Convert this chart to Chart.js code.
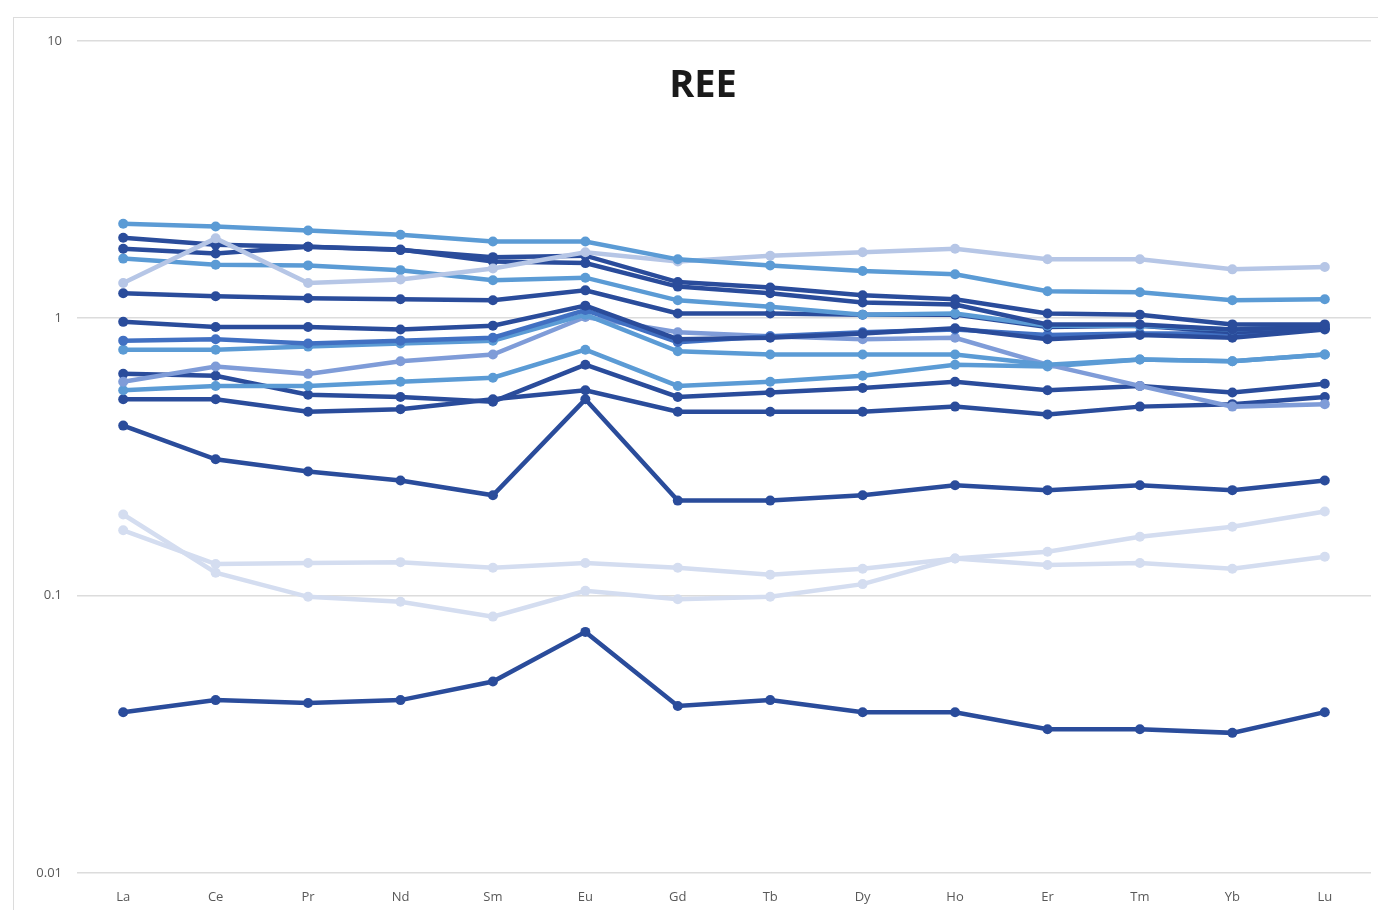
<!DOCTYPE html>
<html>
<head>
<meta charset="utf-8">
<title>REE</title>
<script src="https://cdn.jsdelivr.net/npm/chart.js@4.4.1/dist/chart.umd.min.js"></script>
<style>
  html, body { margin: 0; padding: 0; background: #ffffff; overflow: hidden; width: 1378px; height: 910px; }
  #frame {
    position: absolute; left: 13px; top: 17px;
    width: 1378px; height: 900px;
    border-left: 1px solid #dcdcdc; border-top: 1px solid #dcdcdc;
    background: #ffffff;
  }
  #chart { display: block; }
</style>
</head>
<body>
<div id="frame"><canvas id="chart" width="1378" height="900"></canvas></div>
<script>
// Chondrite-normalised rare earth element patterns
const chartTitle = 'REE';
const categories = ['La', 'Ce', 'Pr', 'Nd', 'Sm', 'Eu', 'Gd', 'Tb', 'Dy', 'Ho', 'Er', 'Tm', 'Yb', 'Lu'];
const yTickValues = [0.01, 0.1, 1, 10];
const yTickLabels = ['0.01', '0.1', '1', '10'];

const sampleA = [2.19, 2.14, 2.07, 2.00, 1.89, 1.89, 1.63, 1.55, 1.48, 1.44, 1.25, 1.24, 1.16, 1.17];
const sampleB = [1.34, 1.94, 1.34, 1.38, 1.51, 1.73, 1.60, 1.68, 1.73, 1.78, 1.63, 1.63, 1.50, 1.53];
const sampleC = [1.95, 1.84, 1.81, 1.76, 1.66, 1.68, 1.35, 1.29, 1.21, 1.17, 1.04, 1.03, 0.95, 0.95];
const sampleD = [1.78, 1.71, 1.81, 1.77, 1.60, 1.58, 1.30, 1.23, 1.14, 1.12, 0.95, 0.95, 0.91, 0.93];
const sampleE = [1.64, 1.56, 1.55, 1.49, 1.37, 1.40, 1.16, 1.10, 1.03, 1.04, 0.94, 0.94, 0.91, 0.94];
const sampleF = [1.23, 1.20, 1.18, 1.17, 1.16, 1.26, 1.04, 1.04, 1.03, 1.03, 0.93, 0.94, 0.89, 0.92];
const sampleG = [0.97, 0.93, 0.93, 0.91, 0.94, 1.11, 0.84, 0.85, 0.88, 0.92, 0.84, 0.87, 0.85, 0.91];
const sampleH = [0.83, 0.84, 0.81, 0.83, 0.85, 1.07, 0.82, 0.86, 0.89, 0.91, 0.87, 0.88, 0.88, 0.92];
const sampleI = [0.77, 0.77, 0.79, 0.81, 0.83, 1.03, 0.76, 0.74, 0.74, 0.74, 0.68, 0.71, 0.70, 0.74];
const sampleJ = [0.63, 0.62, 0.53, 0.52, 0.50, 0.68, 0.52, 0.54, 0.56, 0.59, 0.55, 0.57, 0.54, 0.58];
const sampleK = [0.59, 0.67, 0.63, 0.70, 0.74, 1.01, 0.89, 0.86, 0.84, 0.85, 0.68, 0.57, 0.48, 0.49];
const sampleL = [0.55, 0.57, 0.57, 0.59, 0.61, 0.77, 0.57, 0.59, 0.62, 0.68, 0.67, 0.71, 0.70, 0.74];
const sampleN = [0.51, 0.51, 0.46, 0.47, 0.51, 0.55, 0.46, 0.46, 0.46, 0.48, 0.45, 0.48, 0.49, 0.52];
const sampleO = [0.41, 0.31, 0.28, 0.26, 0.23, 0.51, 0.22, 0.22, 0.23, 0.25, 0.24, 0.25, 0.24, 0.26];
const sampleP = [0.196, 0.121, 0.099, 0.095, 0.084, 0.104, 0.097, 0.099, 0.110, 0.136, 0.144, 0.163, 0.177, 0.201];
const sampleQ = [0.172, 0.130, 0.131, 0.132, 0.126, 0.131, 0.126, 0.119, 0.125, 0.136, 0.129, 0.131, 0.125, 0.138];
const sampleR = [0.038, 0.042, 0.041, 0.042, 0.049, 0.074, 0.040, 0.042, 0.038, 0.038, 0.033, 0.033, 0.032, 0.038];

// Blue monochrome palette
const navy = '#2A4C9B';
const sky = '#5B9BD5';
const royal = '#4170C2';
const periwinkle = '#7F9CD8';
const lavender = '#B6C6E6';
const mist = '#D4DDF0';

const seriesList = [
  { label: 'Sample R', data: sampleR, color: navy },
  { label: 'Sample P', data: sampleP, color: mist },
  { label: 'Sample Q', data: sampleQ, color: mist },
  { label: 'Sample O', data: sampleO, color: navy },
  { label: 'Sample N', data: sampleN, color: navy },
  { label: 'Sample J', data: sampleJ, color: navy },
  { label: 'Sample L', data: sampleL, color: sky },
  { label: 'Sample K', data: sampleK, color: periwinkle },
  { label: 'Sample I', data: sampleI, color: sky },
  { label: 'Sample H', data: sampleH, color: royal },
  { label: 'Sample G', data: sampleG, color: navy },
  { label: 'Sample F', data: sampleF, color: navy },
  { label: 'Sample E', data: sampleE, color: sky },
  { label: 'Sample D', data: sampleD, color: navy },
  { label: 'Sample C', data: sampleC, color: navy },
  { label: 'Sample B', data: sampleB, color: lavender },
  { label: 'Sample A', data: sampleA, color: sky }
];

const datasets = seriesList.map((s, i) => ({
  label: s.label,
  data: s.data,
  borderColor: s.color,
  backgroundColor: s.color,
  pointBackgroundColor: s.color,
  pointBorderColor: s.color,
  borderWidth: 4.5,
  pointRadius: 5,
  pointBorderWidth: 0,
  tension: 0,
  fill: false,
  order: seriesList.length - i
}));

// Title drawn over the plot area
const overlayTitle = {
  id: 'overlayTitle',
  afterDraw(chart) {
    const ctx = chart.ctx;
    ctx.save();
    ctx.font = 'bold 38px "Open Sans", sans-serif';
    ctx.fillStyle = '#1a1a1a';
    ctx.textAlign = 'center';
    ctx.textBaseline = 'middle';
    ctx.fillText(chartTitle, chart.width / 2, 68);
    ctx.restore();
  }
};

const tickFont = { family: '"Open Sans", sans-serif', size: 13 };

new Chart(document.getElementById('chart'), {
  type: 'line',
  data: { labels: categories, datasets: datasets },
  plugins: [overlayTitle],
  options: {
    responsive: false,
    animation: false,
    layout: { padding: { top: 20, right: 21, bottom: 0, left: 0 } },
    plugins: {
      legend: { display: false },
      title: { display: false },
      tooltip: { enabled: false }
    },
    scales: {
      x: {
        type: 'category',
        offset: true,
        grid: { display: false, drawTicks: false },
        border: { display: false },
        ticks: { color: '#595959', font: tickFont, padding: 16, maxRotation: 0 },
        afterFit: (scale) => { scale.height = 45; }
      },
      y: {
        type: 'logarithmic',
        min: 0.01,
        max: 10,
        grid: { color: '#dcdcdc', lineWidth: 1.5, drawTicks: false },
        border: { display: false },
        ticks: {
          color: '#595959',
          font: tickFont,
          padding: 15,
          callback: (value) => {
            const idx = yTickValues.findIndex(v => Math.abs(v - value) < v * 1e-6);
            return idx >= 0 ? yTickLabels[idx] : '';
          }
        },
        afterBuildTicks: (scale) => {
          scale.ticks = yTickValues.map(v => ({ value: v, major: true }));
        },
        afterFit: (scale) => { scale.width = 63; }
      }
    }
  }
});
</script>
</body>
</html>
